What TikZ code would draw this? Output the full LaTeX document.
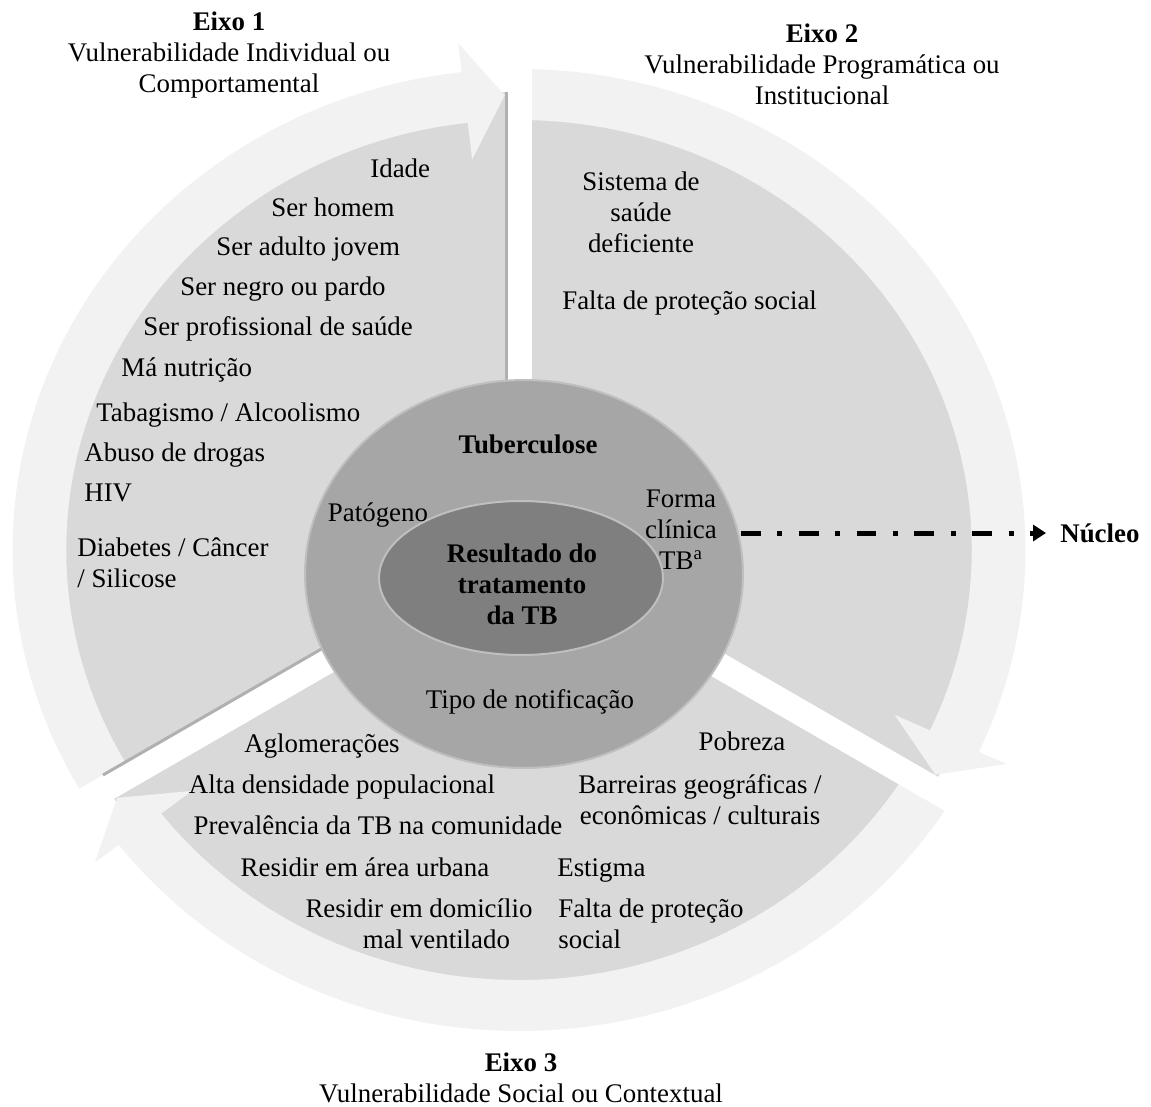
\documentclass[tikz,border=0pt]{standalone}
\usepackage{fontspec}
\setmainfont{Liberation Serif}
\usetikzlibrary{arrows.meta,shapes.geometric}

\definecolor{ringgray}{HTML}{F2F2F2}
\definecolor{sectorgray}{HTML}{D9D9D9}
\definecolor{coregray}{HTML}{A6A6A6}
\definecolor{centergray}{HTML}{7F7F7F}
\definecolor{edgegray}{HTML}{BFBFBF}
\definecolor{shadowgray}{HTML}{B0B0B0}

\newcommand{\txtsize}{\fontsize{15.3}{17.6}\selectfont}

% one curved arrow of the cycle: tail angle, next boundary angle
\newcommand{\cyclearrow}[2]{%
  \fill[ringgray] (#1:481) arc[start angle=#1, end angle={#2-6.5}, radius=481]
    -- ({#2-6.5}:510) -- ({#2-1.7}:455) -- ({#2-6.5}:393) -- ({#2-6.5}:430)
    arc[start angle={#2-6.5}, end angle=#1, radius=430] -- cycle;
}

\tikzset{
  lbl/.style={inner sep=0pt, font=\txtsize},
  leftlbl/.style={lbl, anchor=base west, align=left},
  midlbl/.style={lbl, anchor=base, align=center},
  boldlbl/.style={midlbl, font=\txtsize\bfseries},
}

\begin{document}
\begin{tikzpicture}[x=0.02cm, y=-0.02cm]
  \useasboundingbox (0,0) rectangle (1151,1106);

  % sectors and arrows
  \begin{scope}[shift={(519,550)}, xscale=1.053]
    \fill[sectorgray] (0,0) circle[radius=458];
    \cyclearrow{148.7}{270}
    \cyclearrow{-90}{31.3}
    \cyclearrow{31.3}{148.7}
  \end{scope}
  % gaps between the sectors
  \foreach \ang in {-90,30,150}
    \draw[white, line width=0.52cm] (519,550) -- ++(\ang:600);
  \draw[shadowgray, line width=0.06cm] (506,92) -- (506,560);
  \draw[shadowgray, line width=0.06cm] (103,775) -- (512,539);

  % core
  \node[ellipse, fill=coregray, draw=edgegray, line width=0.04cm,
        minimum width=8.76cm, minimum height=7.76cm, inner sep=0pt] (core) at (524,574) {};
  \node[ellipse, fill=centergray, draw=edgegray, line width=0.04cm,
        minimum width=5.68cm, minimum height=3.08cm, inner sep=0pt] (result) at (521,578) {};

  % titles (base = last line)
  \node[midlbl] (eixoA) at (229,92) {\textbf{Eixo 1}\\Vulnerabilidade Individual ou\\Comportamental};
  \node[midlbl] (eixoB) at (822,104) {\textbf{Eixo 2}\\Vulnerabilidade Programática ou\\Institucional};
  \node[midlbl] (eixoC) at (521,1102) {\textbf{Eixo 3}\\Vulnerabilidade Social ou Contextual};

  % eixo 1
  \node[leftlbl] (idade) at (370,177) {Idade};
  \node[leftlbl] (homem) at (271,216) {Ser homem};
  \node[leftlbl] (jovem) at (216,255) {Ser adulto jovem};
  \node[leftlbl] (negro) at (180,295) {Ser negro ou pardo};
  \node[leftlbl] (profsaude) at (143,335) {Ser profissional de saúde};
  \node[leftlbl] (nutricao) at (121,376) {Má nutrição};
  \node[leftlbl] (tabaco) at (96,421) {Tabagismo / Alcoolismo};
  \node[leftlbl] (drogas) at (84,461) {Abuso de drogas};
  \node[leftlbl] (hiv) at (84,501) {HIV};
  \node[leftlbl] (diabetes) at (77,587) {Diabetes / Câncer\\/ Silicose};

  % eixo 2
  \node[midlbl] (sistema) at (641,252) {Sistema de\\saúde\\deficiente};
  \node[leftlbl] (protecaoB) at (562,309) {Falta de proteção social};

  % nucleo
  \node[boldlbl] (tb) at (528,453) {Tuberculose};
  \node[midlbl] (patogeno) at (378,521) {Patógeno};
  \node[midlbl] (forma) at (681,569) {Forma\\clínica\\TB\textsuperscript{a}};
  \node[boldlbl] (resultado) at (522,624) {Resultado do\\tratamento\\da TB};
  \node[midlbl] (notificacao) at (530,708) {Tipo de notificação};

  % eixo 3
  \node[midlbl] (aglom) at (322,752) {Aglomerações};
  \node[midlbl] (densidade) at (342,793) {Alta densidade populacional};
  \node[midlbl] (prevalencia) at (378,834) {Prevalência da TB na comunidade};
  \node[midlbl] (urbana) at (365,876) {Residir em área urbana};
  \node[midlbl] (domicilio) at (419,948) {Residir em domicílio\\\hspace*{1.3em}mal ventilado};
  \node[midlbl] (pobreza) at (742,750) {Pobreza};
  \node[midlbl] (barreiras) at (700,824) {Barreiras geográficas /\\econômicas / culturais};
  \node[leftlbl] (estigma) at (557,876) {Estigma};
  \node[leftlbl] (protecaoC) at (558,948) {Falta de proteção\\social};

  % pointer to the core
  \node[lbl, font=\txtsize\bfseries, anchor=base west] (nucleo) at (1060,542) {Núcleo};
  \coordinate (coreedge) at (741,533);
  \draw[line width=0.1cm, dash pattern=on 11.3pt off 9.4pt on 2.8pt off 9.4pt,
        -{Triangle[length=0.26cm,width=0.32cm]}, shorten >=0.28cm]
        (coreedge) -- (coreedge -| nucleo.west);
\end{tikzpicture}
\end{document}
